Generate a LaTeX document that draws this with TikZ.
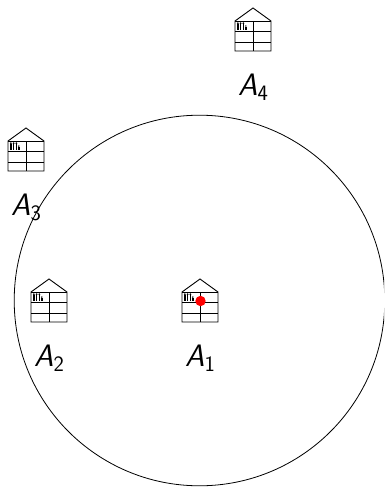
\documentclass[tikz,border=0pt]{standalone}
\newcommand{\subdigit}[1]{\raisebox{-5pt}{\fontsize{22}{22}\selectfont\upshape #1}}
\tikzset{
  housepic/.pic={
    \draw[line width=0.9pt,line join=miter] (-18,13) -- (0,0) -- (18,13) -- (18,43) -- (-18,43) -- cycle;
    \draw[line width=0.9pt] (-18,13) -- (18,13) (-18,23) -- (18,23) (-18,34) -- (18,34) (0,13) -- (0,43);
    \foreach \px/\pt/\pr in {-15.2/15.2/1,-12.4/15.2/1,-9.6/15.2/1,-7.2/18/0.8}{
      \fill[black] (\px,\pt) circle (\pr);
      \draw[line width=1.5pt,black] (\px,\pt+0.8) -- (\px,22);
    }
  },
  lab/.style={inner sep=0pt,font=\fontsize{31}{31}\selectfont\sffamily\itshape}
}
\begin{document}
\begin{tikzpicture}[x=1pt,y=-1pt]
\useasboundingbox (0,0) rectangle (384,487);
\begin{scope}
\clip (0,0) rectangle (384,487);
\draw[line width=0.8pt] (199.5,300.5) circle [radius=185.3];
\end{scope}
\pic at (200,279) {housepic};
\pic at (49,279) {housepic};
\pic at (26,128) {housepic};
\pic at (253,8) {housepic};
\fill[red] (200.5,301) circle (5.2);
\node[lab] (a1) at (200,358) {A\subdigit{1}};
\node[lab] (a2) at (49,358) {A\subdigit{2}};
\node[lab] (a3) at (26,207) {A\subdigit{3}};
\node[lab] (a4) at (253,87) {A\subdigit{4}};
\end{tikzpicture}
\end{document}
